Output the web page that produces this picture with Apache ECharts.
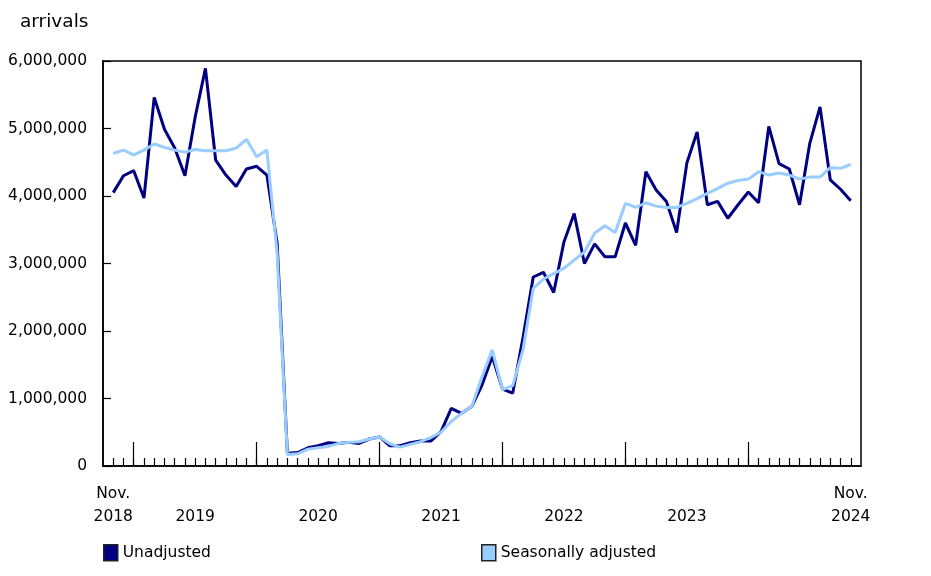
<!DOCTYPE html>
<html>
<head>
<meta charset="utf-8">
<script src="https://cdn.jsdelivr.net/npm/echarts@6/dist/echarts.min.js"></script>
<style>html,body{margin:0;padding:0;background:#fff}#c{width:931px;height:576px}</style>
</head>
<body>
<div id="c"></div>
<script>
// Monthly, November 2018 (index 0) to November 2024 (index 72)
var startYear = 2018, startMonth = 11;
var unadjusted = [
 4050000,4300000,4375000,3970000,5460000,4990000,4710000,4300000,5170000,5890000,4530000,4310000,
 4140000,4400000,4440000,4310000,3300000,190000,200000,270000,300000,345000,335000,350000,
 335000,400000,430000,300000,300000,345000,370000,370000,510000,855000,780000,880000,
 1200000,1620000,1140000,1080000,1900000,2800000,2870000,2570000,3320000,3740000,3000000,3290000,
 3100000,3100000,3600000,3270000,4360000,4090000,3920000,3460000,4490000,4950000,3870000,3920000,
 3670000,3870000,4060000,3900000,5030000,4480000,4400000,3870000,4780000,5320000,4240000,4100000,
 3930000
];
var seasonallyAdjusted = [
 4630000,4680000,4610000,4680000,4770000,4720000,4680000,4650000,4690000,4670000,4670000,4670000,
 4710000,4840000,4580000,4680000,3150000,170000,180000,250000,270000,290000,335000,350000,
 360000,400000,430000,330000,280000,320000,360000,420000,500000,660000,780000,880000,
 1320000,1720000,1130000,1190000,1720000,2630000,2770000,2850000,2930000,3050000,3170000,3450000,
 3560000,3460000,3890000,3830000,3900000,3850000,3830000,3830000,3890000,3960000,4040000,4110000,
 4190000,4230000,4250000,4360000,4310000,4340000,4310000,4250000,4280000,4280000,4420000,4410000,
 4470000
];
var seriesNames = ['Unadjusted', 'Seasonally adjusted'];
var yTicks = [0,1000000,2000000,3000000,4000000,5000000,6000000];
var yearLabelPositions = [0, 8, 20, 32, 44, 56, 72];
var yearLabels = ['Nov.\n2018', '\n2019', '\n2020', '\n2021', '\n2022', '\n2023', 'Nov.\n2024'];
var yearStarts = [2, 14, 26, 38, 50, 62];
var yTitle = 'arrivals';

var monthIdx = unadjusted.map(function(_, i){ return i; });
function pairs(arr){ return arr.map(function(v,i){ return [monthIdx[i], v]; }); }
var FONT = 'DejaVu Sans';
var chart = echarts.init(document.getElementById('c'), null, {renderer:'canvas'});
chart.setOption({
  animation: false,
  backgroundColor: '#fff',
  textStyle: {fontFamily: FONT},
  title: {text: yTitle, left: 15, top: 8, textStyle: {fontFamily: FONT, fontSize: 18.5, fontWeight: 'normal', color: '#000'}},
  grid: {left: 103, right: 70, top: 61, bottom: 110, show: true, borderColor: '#000', borderWidth: 1.5, backgroundColor: 'transparent'},
  legend: [
    {data: [seriesNames[0]], left: 98, top: 539, icon: 'rect', itemWidth: 14, itemHeight: 16, itemGap: 0,
     itemStyle: {borderColor: '#222', borderWidth: 1.5}, textStyle: {fontFamily: FONT, fontSize: 15.5, color: '#000'}},
    {data: [seriesNames[1]], left: 476, top: 539, icon: 'rect', itemWidth: 14, itemHeight: 16, itemGap: 0,
     itemStyle: {borderColor: '#222', borderWidth: 1.5}, textStyle: {fontFamily: FONT, fontSize: 15.5, color: '#000'}}
  ],
  xAxis: [
    {type: 'value', min: -1, max: 73, position: 'bottom',
     axisLine: {show: true, onZero: false, lineStyle: {color: '#000', width: 1.5}},
     splitLine: {show: false},
     axisTick: {show: true, inside: true, length: 8, customValues: monthIdx, lineStyle: {color: '#000', width: 1.2}},
     axisLabel: {show: true, customValues: yearLabelPositions, margin: 16, lineHeight: 23, fontSize: 15.5, color: '#000', fontFamily: FONT,
       formatter: function(v){ var k = yearLabelPositions.indexOf(v); return k >= 0 ? yearLabels[k] : ''; }}
    },
    {type: 'value', min: -1, max: 73, position: 'bottom',
     axisLine: {show: false}, splitLine: {show: false}, axisLabel: {show: false},
     axisTick: {show: true, inside: true, length: 24, customValues: yearStarts, lineStyle: {color: '#000', width: 1.2}}
    }
  ],
  yAxis: {type: 'value', min: 0, max: 6000000, interval: 1000000,
    axisLine: {show: true, onZero: false, lineStyle: {color: '#000', width: 1.5}},
    axisTick: {show: true, inside: true, length: 8, lineStyle: {color: '#000', width: 1.2}},
    splitLine: {show: false},
    axisLabel: {margin: 16, fontSize: 15.5, color: '#000', fontFamily: FONT,
      formatter: function(v){ return v.toLocaleString('en-US'); }}
  },
  series: [
    {name: seriesNames[0], type: 'line', data: pairs(unadjusted), showSymbol: false, symbol: 'none',
     lineStyle: {color: '#000080', width: 3}, itemStyle: {color: '#000080'}, z: 2},
    {name: seriesNames[1], type: 'line', data: pairs(seasonallyAdjusted), showSymbol: false, symbol: 'none',
     lineStyle: {color: '#99ccff', width: 3}, itemStyle: {color: '#99ccff'}, z: 3}
  ]
});
</script>
</body>
</html>
